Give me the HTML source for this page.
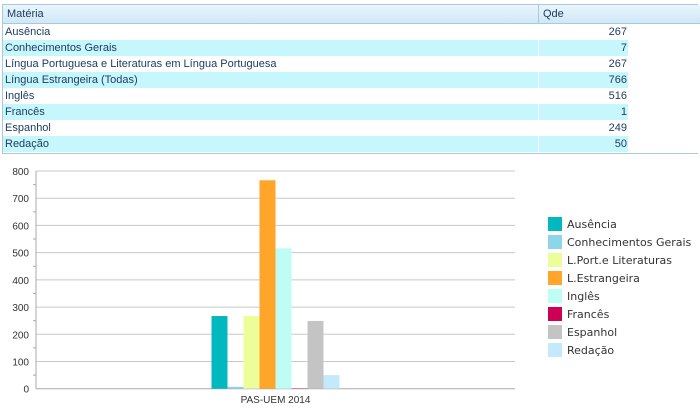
<!DOCTYPE html>
<html><head><meta charset="utf-8"><style>
body{margin:0;width:700px;height:411px;background:#fff;overflow:hidden;font-family:"Liberation Sans",Arial,sans-serif;}
#tbl{position:absolute;left:2px;top:4px;width:696px;height:150px;border:1px solid #a9c9dd;border-right:none;box-sizing:border-box;}
.hdr{position:absolute;left:0;top:0;height:18px;width:700px;background:linear-gradient(#e9f5fc,#cfe8f7);border-bottom:1px solid #a9c9dd;font-size:11px;color:#1e3c64;line-height:18px;}
.hdr span{position:absolute;top:0;}
.row{position:absolute;left:0;height:16px;width:625px;font-size:11px;color:#1e3c64;line-height:17px;}
.row.s{background:#c6f7fc;}
.row .n{position:absolute;left:2px;}
.row .q{position:absolute;right:1px;}
.row .d{position:absolute;left:535px;top:0;width:1px;height:16px;background:#fff;}
</style></head><body>
<div id="tbl">
 <div class="hdr">
  <span style="left:4px">Matéria</span>
  <span style="left:535px;border-left:1px solid #a9c9dd;height:18px;padding-left:4px">Qde</span>
 </div>
 <div id="rows"></div>
</div>
<svg id="chart" width="700" height="411" style="position:absolute;left:0;top:0"></svg>
<script>
const rowNames=["Ausência","Conhecimentos Gerais","Língua Portuguesa e Literaturas em Língua Portuguesa","Língua Estrangeira (Todas)","Inglês","Francês","Espanhol","Redação"];
const rowValues=[267,7,267,766,516,1,249,50];
const seriesNames=["Ausência","Conhecimentos Gerais","L.Port.e Literaturas","L.Estrangeira","Inglês","Francês","Espanhol","Redação"];
const seriesValues=[267,7,267,766,516,1,249,50];
const seriesColors=["#00b8bd","#8dd6e8","#ecfd9a","#ffa52a","#bdfdf3","#cc0055","#c4c4c4","#c3e9fb"];
const categories=["PAS-UEM 2014"];
const yTicks=[0,100,200,300,400,500,600,700,800];

const rows=document.getElementById('rows');
rowNames.forEach((n,i)=>{
 const r=document.createElement('div');
 r.className='row'+(i%2?' s':'');
 r.style.top=(19+i*16)+'px';
 
 
 r.innerHTML='<span class="n">'+n+'</span><span class="d"></span><span class="q">'+rowValues[i]+'</span>';
 rows.appendChild(r);
});

const NS='http://www.w3.org/2000/svg';
const svg=document.getElementById('chart');
const L=36,R=515,T=171,B=388.7,yMax=800;
const y=v=>B-(v/yMax)*(B-T);
const bw=16;
const cx=i=>L+(R-L)*(i+0.5)/categories.length;
function el(t,a){const e=document.createElementNS(NS,t);for(const k in a)e.setAttribute(k,a[k]);svg.appendChild(e);return e;}
yTicks.forEach(v=>{
 const g=el('line',{x1:L,x2:R,y1:y(v),y2:y(v),stroke:v===0?'#aaa':'#c8c8c8','stroke-width':1});
 
 
 const t=el('text',{x:L-7,y:y(v)+4,'text-anchor':'end','font-size':'10','font-family':'Liberation Sans, Arial, sans-serif',fill:'#333'});
 t.textContent=v;
 
 
});
for(let v=50;v<800;v+=100){const m=el('line',{x1:L-3,x2:L,y1:y(v),y2:y(v),stroke:'#aaa'});}
const ax=el('line',{x1:L,x2:L,y1:T,y2:B,stroke:'#aaa'});


categories.forEach((c,ci)=>{
 const start=cx(ci)-bw*seriesValues.length/2;
 seriesValues.forEach((v,i)=>{
  const b=el('rect',{x:start+i*bw,y:y(v),width:bw,height:B-y(v),fill:seriesColors[i]});
  
  
 });
 const t=el('text',{x:cx(ci),y:403,'text-anchor':'middle','font-size':'10','font-family':'Liberation Sans, Arial, sans-serif',fill:'#333'});
 t.textContent=c;
 
 
});
seriesNames.forEach((n,i)=>{
 const s=el('rect',{x:548,y:217+i*18,width:14,height:14,fill:seriesColors[i]});
 
 
 const t=el('text',{x:567,y:228+i*18,'font-size':'11','font-family':'DejaVu Sans, Verdana, sans-serif',fill:'#333'});
 t.textContent=n;
 
 
});
</script>
</body></html>
